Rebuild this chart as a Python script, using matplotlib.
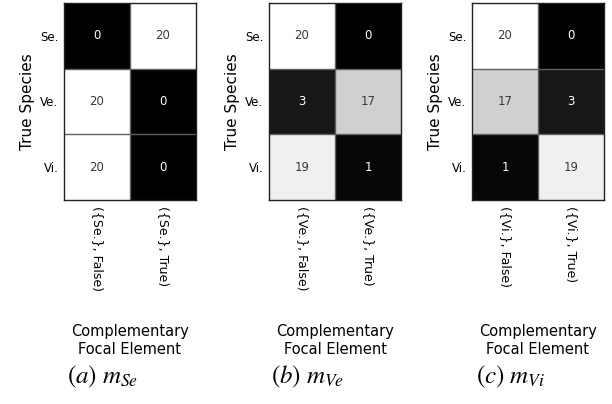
import matplotlib
matplotlib.use("Agg")
import matplotlib.pyplot as plt
from matplotlib.colors import PowerNorm
import numpy as np

# confusion counts, rows = true species, cols = complementary focal element
species = ['Se.', 'Ve.', 'Vi.']
m_se = [[0, 20], [20, 0], [20, 0]]
m_ve = [[20, 0], [3, 17], [19, 1]]
m_vi = [[20, 0], [17, 3], [1, 19]]

xlabels_se = ['({Se.}, False)', '({Se.}, True)']
xlabels_ve = ['({Ve.}, False)', '({Ve.}, True)']
xlabels_vi = ['({Vi.}, False)', '({Vi.}, True)']

captions = [r'$(a)\ m_{Se}$', r'$(b)\ m_{Ve}$', r'$(c)\ m_{Vi}$']

plt.rcParams['mathtext.fontset'] = 'stix'
plt.rcParams['font.family'] = 'DejaVu Sans'

fig = plt.figure(figsize=(6.12, 4.04), dpi=100)

lefts = [64/612., 269/612., 472/612.]
bottom = 1 - 200/404.
width = 132/612.
height = 197/404.

panels = [(m_se, xlabels_se), (m_ve, xlabels_ve), (m_vi, xlabels_vi)]

for i, (mat, xl) in enumerate(panels):
    ax = fig.add_axes([lefts[i], bottom, width, height])
    data = np.array(mat, dtype=float)
    ax.pcolormesh(data, cmap='gray', norm=PowerNorm(1.25, vmin=0, vmax=20))
    # thin grey cell borders
    for k in range(1, data.shape[0]):
        ax.axhline(k, color='#606060', lw=1.0)
    for k in range(1, data.shape[1]):
        ax.axvline(k, color='#606060', lw=1.0)
    ax.set_xlim(0, 2)
    ax.set_ylim(3, 0)
    for r in range(data.shape[0]):
        for c in range(data.shape[1]):
            v = data[r, c]
            col = 'white' if v < 10 else '#3a3a3a'
            ax.text(c + 0.5, r + 0.5, '%d' % v, ha='center', va='center',
                    fontsize=8.5, color=col)
    ax.set_xticks([0.5, 1.5])
    ax.set_xticklabels(xl, rotation=-90, fontsize=9, va='top', ha='center')
    ax.set_yticks([0.5, 1.5, 2.5])
    ax.set_yticklabels(species, fontsize=8.5)
    ax.tick_params(length=0, pad=4)
    for s in ax.spines.values():
        s.set_linewidth(1.0)
        s.set_color('#222222')
    ax.set_ylabel('True Species', fontsize=11, labelpad=4)
    ax.text(0.5, -0.715, 'Complementary\nFocal Element', transform=ax.transAxes,
            ha='center', va='center', fontsize=10.5, linespacing=1.25)
    ax.text(0.29, -0.9, captions[i], transform=ax.transAxes,
            ha='center', va='center', fontsize=18)

fig.savefig('out.png', dpi=100)
